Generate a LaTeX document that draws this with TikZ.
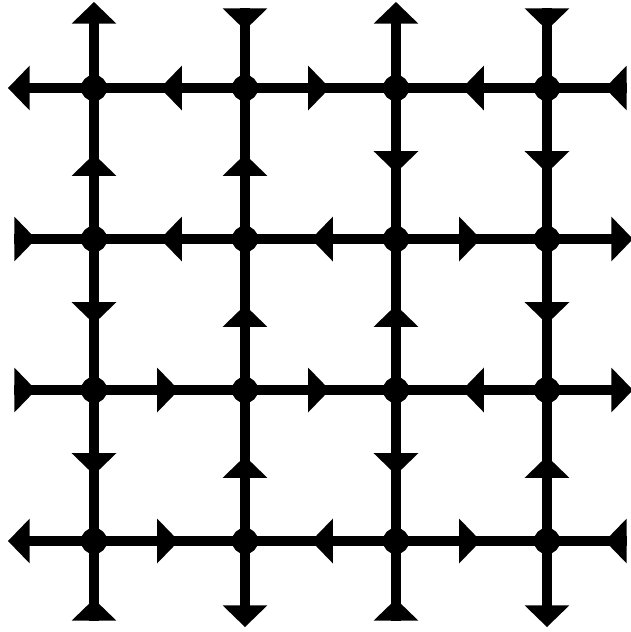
\documentclass[tikz,border=0pt]{standalone}
\usetikzlibrary{arrows.meta,decorations.markings}
\begin{document}
\begin{tikzpicture}[x=3cm, y=3cm, line width=0.19cm,
	dot/.style={circle, fill, inner sep=0pt, minimum size=0.52cm},
	tip/.style={-{Triangle[length=0.43cm, width=0.86cm]}},
	flow/.style={postaction={decorate}, decoration={markings, mark=at position 0.562 with {\arrow{Triangle[length=0.43cm, width=0.86cm]}}}},
	inflow/.style={postaction={decorate}, decoration={markings, mark=at position 0.43cm with {\arrow{Triangle[length=0.43cm, width=0.86cm]}}}}]
	
	\useasboundingbox (-0.6225,-0.6026) rectangle (3.556,3.583);
	
	% ================= 格点 (行, 列) =================
	\node[dot] (v11) at (0,3) {}; \node[dot] (v12) at (1,3) {}; \node[dot] (v13) at (2,3) {}; \node[dot] (v14) at (3,3) {};
	\node[dot] (v21) at (0,2) {}; \node[dot] (v22) at (1,2) {}; \node[dot] (v23) at (2,2) {}; \node[dot] (v24) at (3,2) {};
	\node[dot] (v31) at (0,1) {}; \node[dot] (v32) at (1,1) {}; \node[dot] (v33) at (2,1) {}; \node[dot] (v34) at (3,1) {};
	\node[dot] (v41) at (0,0) {}; \node[dot] (v42) at (1,0) {}; \node[dot] (v43) at (2,0) {}; \node[dot] (v44) at (3,0) {};
	
	% 边界端点 (向外 0.57, 向内 0.527)
	\coordinate (t1) at (0,3.57);   \coordinate (t2) at (1,3.527);  \coordinate (t3) at (2,3.57);   \coordinate (t4) at (3,3.527);
	\coordinate (b1) at (0,-0.527); \coordinate (b2) at (1,-0.57);  \coordinate (b3) at (2,-0.527); \coordinate (b4) at (3,-0.57);
	\coordinate (l1) at (-0.57,3);  \coordinate (l2) at (-0.527,2); \coordinate (l3) at (-0.527,1); \coordinate (l4) at (-0.57,0);
	\coordinate (r1) at (3.527,3);  \coordinate (r2) at (3.57,2);   \coordinate (r3) at (3.57,1);   \coordinate (r4) at (3.527,0);
	
	% ================= 水平边 =================
	\draw[flow] (v12.center) -- (v11.center);
	\draw[flow] (v12.center) -- (v13.center);
	\draw[flow] (v14.center) -- (v13.center);
	\draw[flow] (v22.center) -- (v21.center);
	\draw[flow] (v23.center) -- (v22.center);
	\draw[flow] (v23.center) -- (v24.center);
	\draw[flow] (v31.center) -- (v32.center);
	\draw[flow] (v32.center) -- (v33.center);
	\draw[flow] (v34.center) -- (v33.center);
	\draw[flow] (v41.center) -- (v42.center);
	\draw[flow] (v43.center) -- (v42.center);
	\draw[flow] (v43.center) -- (v44.center);
	
	% ================= 竖直边 =================
	\draw[flow] (v21.center) -- (v11.center);
	\draw[flow] (v21.center) -- (v31.center);
	\draw[flow] (v31.center) -- (v41.center);
	\draw[flow] (v22.center) -- (v12.center);
	\draw[flow] (v32.center) -- (v22.center);
	\draw[flow] (v42.center) -- (v32.center);
	\draw[flow] (v13.center) -- (v23.center);
	\draw[flow] (v33.center) -- (v23.center);
	\draw[flow] (v33.center) -- (v43.center);
	\draw[flow] (v14.center) -- (v24.center);
	\draw[flow] (v24.center) -- (v34.center);
	\draw[flow] (v44.center) -- (v34.center);
	
	% ================= 边界短边 =================
	\draw[tip] (v11.center) -- (t1);
	\draw[inflow] (t2) -- (v12.center);
	\draw[tip] (v13.center) -- (t3);
	\draw[inflow] (t4) -- (v14.center);
	\draw[inflow] (b1) -- (v41.center);
	\draw[tip] (v42.center) -- (b2);
	\draw[inflow] (b3) -- (v43.center);
	\draw[tip] (v44.center) -- (b4);
	\draw[tip] (v11.center) -- (l1);
	\draw[inflow] (l2) -- (v21.center);
	\draw[inflow] (l3) -- (v31.center);
	\draw[tip] (v41.center) -- (l4);
	\draw[inflow] (r1) -- (v14.center);
	\draw[tip] (v24.center) -- (r2);
	\draw[tip] (v34.center) -- (r3);
	\draw[inflow] (r4) -- (v44.center);
	
\end{tikzpicture}
\end{document}
